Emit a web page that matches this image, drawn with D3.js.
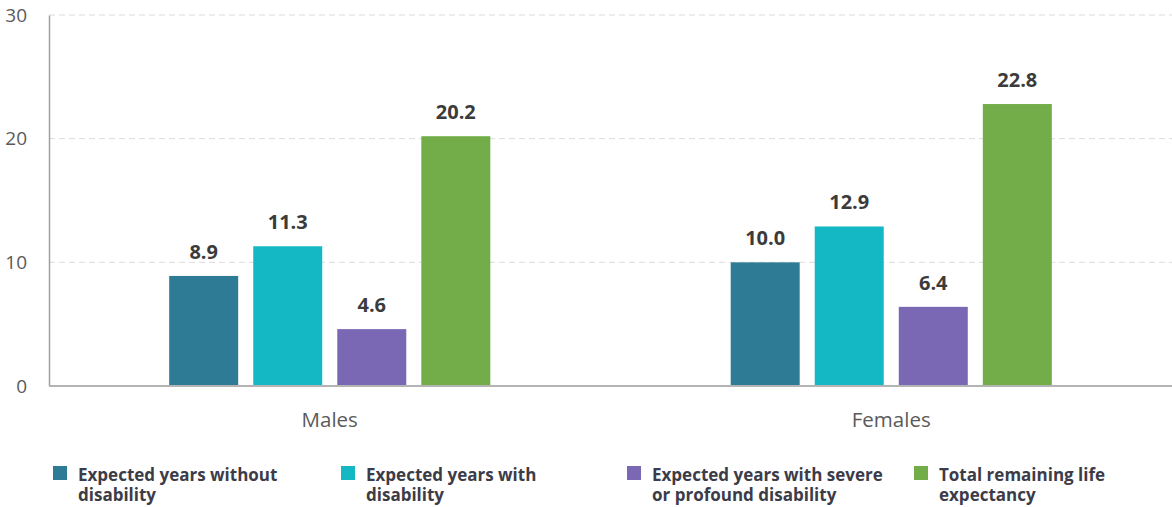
<!DOCTYPE html>
<html>
<head>
<meta charset="utf-8">
<script src="https://cdn.jsdelivr.net/npm/d3@7"></script>
<style>
  html, body { margin: 0; padding: 0; background: #fff; }
  svg { display: block; font-family: "Open Sans", "Noto Sans", sans-serif; }
</style>
</head>
<body>
<svg id="chart" width="1172" height="507"></svg>
<script>
// Life expectancy breakdown by sex
const groups = ["Males", "Females"];
const seriesNames = [
  "Expected years without disability",
  "Expected years with disability",
  "Expected years with severe or profound disability",
  "Total remaining life expectancy"
];
const legendLines = [
  ["Expected years without", "disability"],
  ["Expected years with", "disability"],
  ["Expected years with severe", "or profound disability"],
  ["Total remaining life", "expectancy"]
];
const males = [8.9, 11.3, 4.6, 20.2];
const females = [10.0, 12.9, 6.4, 22.8];
const yTicks = [0, 10, 20, 30];
const colors = ["#2e7b96", "#14b8c4", "#7b68b5", "#72ad4a"];

const valuesByGroup = { Males: males, Females: females };

const svg = d3.select("#chart");
const plotLeft = 49, plotRight = 1172, plotTop = 15, plotBottom = 386;

const y = d3.scaleLinear().domain([0, 30]).range([plotBottom, plotTop]);
const x0 = d3.scaleBand().domain(groups).range([plotLeft, plotRight]).padding(0);
const x1 = d3.scaleBand().domain(d3.range(seriesNames.length))
  .range([0, x0.bandwidth()]).paddingInner(0.179).paddingOuter(1.43);
const color = d3.scaleOrdinal().domain(d3.range(seriesNames.length)).range(colors);

// Dashed horizontal gridlines
svg.append("g")
  .selectAll("line")
  .data(yTicks.filter(d => d > 0))
  .join("line")
  .attr("x1", plotLeft).attr("x2", plotRight)
  .attr("y1", d => y(d)).attr("y2", d => y(d))
  .attr("stroke", "#dcdcdc")
  .attr("stroke-width", 1)
  .attr("stroke-dasharray", "6,4");

// Y axis labels
const yAxis = svg.append("g")
  .attr("transform", `translate(${plotLeft},0)`)
  .call(d3.axisLeft(y).tickValues(yTicks).tickSize(0).tickPadding(22));
yAxis.select(".domain").attr("stroke", "#a0a0a0").attr("stroke-width", 1.5);
yAxis.selectAll("text")
  .attr("fill", "#5a5a5a")
  .style("font-size", "19px")
  .style("font-family", "\"Open Sans\", sans-serif");

// Bars
const groupG = svg.append("g")
  .selectAll("g")
  .data(groups)
  .join("g")
  .attr("transform", g => `translate(${x0(g)},0)`);

groupG.selectAll("rect")
  .data(g => valuesByGroup[g].map((v, i) => ({ v, i })))
  .join("rect")
  .attr("x", d => x1(d.i))
  .attr("width", x1.bandwidth())
  .attr("y", d => y(d.v))
  .attr("height", d => y(0) - y(d.v))
  .attr("fill", d => color(d.i));

// Value labels
groupG.selectAll("text.val")
  .data(g => valuesByGroup[g].map((v, i) => ({ v, i })))
  .join("text")
  .attr("class", "val")
  .attr("x", d => x1(d.i) + x1.bandwidth() / 2)
  .attr("y", d => y(d.v) - 17)
  .attr("text-anchor", "middle")
  .attr("fill", "#3b3b3b")
  .style("font-size", "20px")
  .style("font-weight", "700")
  .text(d => d.v.toFixed(1));

// X axis baseline and category labels
svg.append("line")
  .attr("x1", plotLeft).attr("x2", plotRight)
  .attr("y1", y(0)).attr("y2", y(0))
  .attr("stroke", "#b4b4b4").attr("stroke-width", 2);

svg.append("g")
  .selectAll("text")
  .data(groups)
  .join("text")
  .attr("x", g => x0(g) + x0.bandwidth() / 2)
  .attr("y", 427)
  .attr("text-anchor", "middle")
  .attr("fill", "#5a5a5a")
  .style("font-size", "20.5px")
  .text(g => g);

// Legend
const legendX = [53, 341, 627, 914];
const legend = svg.append("g")
  .selectAll("g")
  .data(seriesNames)
  .join("g")
  .attr("transform", (d, i) => `translate(${legendX[i]},466)`);

legend.append("rect")
  .attr("width", 14).attr("height", 14)
  .attr("fill", (d, i) => color(i));

legend.append("text")
  .attr("x", 25)
  .attr("y", 15)
  .attr("fill", "#3c3c48")
  .style("font-size", "17px")
  .style("font-weight", "700")
  .selectAll("tspan")
  .data((d, i) => legendLines[i])
  .join("tspan")
  .attr("x", 25)
  .attr("dy", (d, j) => j === 0 ? 0 : 20)
  .text(d => d);
</script>
</body>
</html>
